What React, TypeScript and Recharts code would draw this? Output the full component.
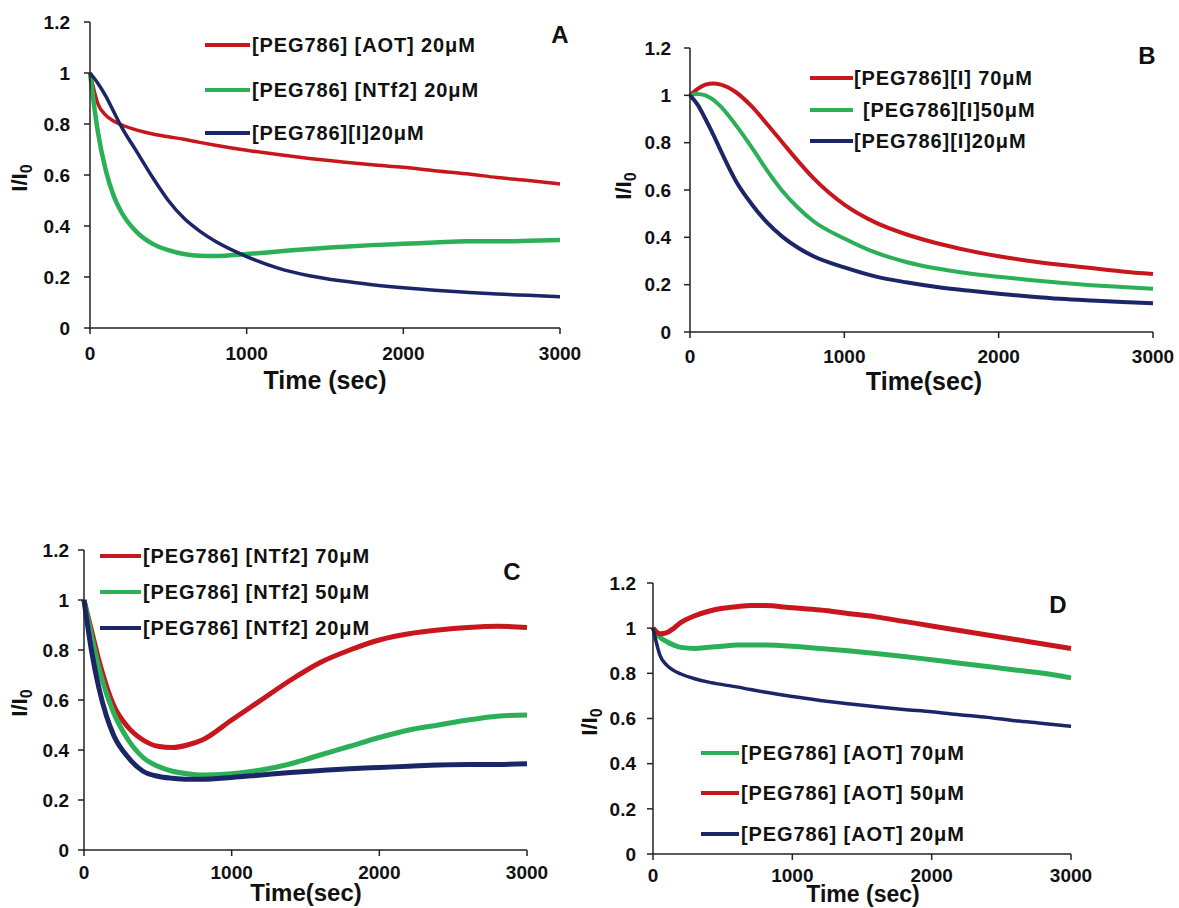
import { LineChart, Line, XAxis, YAxis } from "recharts";

// sample times (sec) shared by every curve
const TIME = [0, 50, 100, 150, 200, 300, 400, 500, 600, 700, 800, 1000, 1200, 1400, 1600, 1800, 2000, 2200, 2400, 2600, 2800, 3000];

// panel A
const aAot20 = [1.0, 0.88, 0.835, 0.812, 0.797, 0.776, 0.761, 0.75, 0.74, 0.728, 0.717, 0.697, 0.68, 0.665, 0.652, 0.64, 0.63, 0.617, 0.605, 0.59, 0.578, 0.565];
const aNtf20 = [1.0, 0.77, 0.62, 0.52, 0.455, 0.375, 0.33, 0.305, 0.29, 0.283, 0.282, 0.29, 0.3, 0.31, 0.318, 0.325, 0.33, 0.335, 0.34, 0.34, 0.342, 0.345];
const aI20 = [1.0, 0.96, 0.91, 0.85, 0.79, 0.69, 0.59, 0.5, 0.43, 0.38, 0.34, 0.28, 0.235, 0.205, 0.185, 0.17, 0.158, 0.148, 0.14, 0.133, 0.128, 0.123];

// panel B
const bI70 = [1.0, 1.027, 1.045, 1.05, 1.045, 1.012, 0.953, 0.878, 0.8, 0.722, 0.65, 0.538, 0.463, 0.413, 0.375, 0.345, 0.32, 0.3, 0.284, 0.27, 0.256, 0.245];
const bI50 = [1.0, 1.006, 1.0, 0.982, 0.952, 0.872, 0.78, 0.682, 0.595, 0.525, 0.468, 0.395, 0.336, 0.296, 0.268, 0.248, 0.233, 0.22, 0.208, 0.198, 0.19, 0.183];
const bI20 = [1.0, 0.96, 0.9, 0.835, 0.765, 0.635, 0.54, 0.462, 0.402, 0.356, 0.32, 0.273, 0.235, 0.21, 0.19, 0.175, 0.162, 0.15, 0.14, 0.133, 0.127, 0.122];

// panel C
const cNtf70 = [1.0, 0.88, 0.76, 0.66, 0.58, 0.49, 0.44, 0.415, 0.41, 0.42, 0.44, 0.52, 0.6, 0.68, 0.75, 0.8, 0.84, 0.865, 0.88, 0.89, 0.895, 0.89];
const cNtf50 = [1.0, 0.86, 0.73, 0.63, 0.55, 0.44, 0.37, 0.335, 0.315, 0.305, 0.3, 0.305, 0.32, 0.345, 0.38, 0.415, 0.45, 0.48, 0.5, 0.52, 0.535, 0.54];
const cNtf20 = [1.0, 0.8, 0.65, 0.54, 0.46, 0.37, 0.315, 0.295, 0.287, 0.283, 0.283, 0.29, 0.3, 0.31, 0.318, 0.325, 0.33, 0.335, 0.34, 0.342, 0.342, 0.345];

// panel D
const dAot70 = [1.0, 0.96, 0.94, 0.925, 0.915, 0.91, 0.915, 0.92, 0.925, 0.925, 0.925, 0.92, 0.91, 0.9, 0.888, 0.875, 0.86, 0.845, 0.83, 0.815, 0.8, 0.78];
const dAot50 = [1.0, 0.975, 0.98, 1.0, 1.025, 1.055, 1.075, 1.088, 1.095, 1.1, 1.1, 1.09, 1.08, 1.065, 1.05, 1.03, 1.01, 0.99, 0.97, 0.95, 0.93, 0.91];
const dAot20 = [1.0, 0.88, 0.835, 0.812, 0.797, 0.776, 0.761, 0.75, 0.74, 0.728, 0.717, 0.697, 0.68, 0.665, 0.652, 0.64, 0.63, 0.617, 0.605, 0.59, 0.578, 0.565];

const X_TICKS = [0, 1000, 2000, 3000];
const Y_TICKS = [0, 0.2, 0.4, 0.6, 0.8, 1, 1.2];

const RED = "#c8161d";
const GREEN = "#2bb057";
const NAVY = "#1b2668";
const FONT = "'Liberation Sans', Arial, sans-serif";

type Series = { name: string; values: number[]; color: string; width: number };

type PanelProps = {
  series: Series[];
  box: { x0: number; x1: number; y0: number; y1: number };
  yTickMargin: number;
  xTickMargin: number;
  letter: string;
  letterPos: [number, number];
  xTitle: string;
  xTitlePos: [number, number];
  xTitleSize: number;
  yTitlePos: [number, number];
  legendLine: [number, number];
  legendText: number[];
  legendRows: number[];
};

function Txt({ x, y, size, children, rotate }: { x: number; y: number; size: number; children: any; rotate?: boolean }) {
  return (
    <div
      style={{
        position: "absolute",
        left: x,
        top: y,
        transform: `translate(-50%, -50%)${rotate ? " rotate(-90deg)" : ""}`,
        fontFamily: FONT,
        fontWeight: 700,
        fontSize: size,
        color: "#111",
        whiteSpace: "nowrap",
        lineHeight: 1,
      }}
    >
      {children}
    </div>
  );
}

function Panel(p: PanelProps) {
  const yw = 80;
  const left = p.box.x0 - yw;
  const top = p.box.y0 - 20;
  const width = p.box.x1 + 40 - left;
  const height = p.box.y1 + 50 - top;
  const rows = TIME.map((t, i) => {
    const r: Record<string, number> = { t };
    p.series.forEach((s) => (r[s.name] = s.values[i]));
    return r;
  });
  const tick = { fill: "#111", fontSize: 19, fontWeight: 700, fontFamily: FONT };

  return (
    <>
      <div style={{ position: "absolute", left, top }}>
        <LineChart width={width} height={height} data={rows} margin={{ top: 20, right: 40, left: 0, bottom: 0 }}>
          <XAxis
            dataKey="t"
            type="number"
            domain={[0, 3000]}
            ticks={X_TICKS}
            height={50}
            tick={tick}
            tickSize={6}
            tickMargin={p.xTickMargin}
            axisLine={{ stroke: "#222", strokeWidth: 1.5 }}
            tickLine={{ stroke: "#222", strokeWidth: 1.5 }}
          />
          <YAxis
            type="number"
            domain={[0, 1.2]}
            ticks={Y_TICKS}
            width={yw}
            tick={tick}
            tickSize={6}
            tickMargin={p.yTickMargin}
            tickFormatter={(v: number) => String(Number(v.toFixed(1)))}
            axisLine={{ stroke: "#222", strokeWidth: 1.5 }}
            tickLine={{ stroke: "#222", strokeWidth: 1.5 }}
          />
          {p.series.map((s) => (
            <Line
              key={s.name}
              dataKey={s.name}
              type="monotone"
              stroke={s.color}
              strokeWidth={s.width}
              dot={false}
              isAnimationActive={false}
            />
          ))}
        </LineChart>
      </div>
      {p.series.map((s, i) => (
        <div key={s.name}>
          <div
            style={{
              position: "absolute",
              left: p.legendLine[0],
              top: p.legendRows[i] - 2,
              width: p.legendLine[1] - p.legendLine[0],
              height: 4,
              background: s.color,
            }}
          />
          <div
            style={{
              position: "absolute",
              left: p.legendText[i],
              top: p.legendRows[i],
              transform: "translateY(-50%)",
              fontFamily: FONT,
              fontWeight: 700,
              fontSize: 20,
              letterSpacing: 0.9,
              color: "#111",
              whiteSpace: "nowrap",
              lineHeight: 1,
            }}
          >
            {s.name}
          </div>
        </div>
      ))}
      <Txt x={p.letterPos[0]} y={p.letterPos[1]} size={24}>{p.letter}</Txt>
      <Txt x={p.xTitlePos[0]} y={p.xTitlePos[1]} size={p.xTitleSize}>{p.xTitle}</Txt>
      <Txt x={p.yTitlePos[0]} y={p.yTitlePos[1]} size={22} rotate>
        I/I<sub style={{ fontSize: 16 }}>0</sub>
      </Txt>
    </>
  );
}

export default function App() {
  const aS: Series[] = [
    { name: "[PEG786] [AOT] 20μM", values: aAot20, color: RED, width: 3.5 },
    { name: "[PEG786] [NTf2] 20μM", values: aNtf20, color: GREEN, width: 4.5 },
    { name: "[PEG786][I]20μM", values: aI20, color: NAVY, width: 3.5 },
  ];
  const bS: Series[] = [
    { name: "[PEG786][I] 70μM", values: bI70, color: RED, width: 4 },
    { name: "[PEG786][I]50μM", values: bI50, color: GREEN, width: 4 },
    { name: "[PEG786][I]20μM", values: bI20, color: NAVY, width: 4 },
  ];
  const cS: Series[] = [
    { name: "[PEG786] [NTf2] 70μM", values: cNtf70, color: RED, width: 5 },
    { name: "[PEG786] [NTf2] 50μM", values: cNtf50, color: GREEN, width: 5 },
    { name: "[PEG786] [NTf2] 20μM", values: cNtf20, color: NAVY, width: 5 },
  ];
  const dS: Series[] = [
    { name: "[PEG786] [AOT] 70μM", values: dAot70, color: GREEN, width: 5 },
    { name: "[PEG786] [AOT] 50μM", values: dAot50, color: RED, width: 5 },
    { name: "[PEG786] [AOT] 20μM", values: dAot20, color: NAVY, width: 3.5 },
  ];

  return (
    <div style={{ position: "absolute", left: 0, top: 0, width: 1179, height: 908, background: "#fff", overflow: "hidden" }}>
      <Panel
        series={aS}
        box={{ x0: 90, x1: 560, y0: 22, y1: 328 }}
        yTickMargin={14}
        xTickMargin={13}
        letter="A"
        letterPos={[560, 35]}
        xTitle="Time (sec)"
        xTitlePos={[325, 380]}
        xTitleSize={25}
        yTitlePos={[22, 178]}
        legendLine={[205, 250]}
        legendText={[252, 252, 252]}
        legendRows={[45, 90, 133]}
      />
      <Panel
        series={bS}
        box={{ x0: 690, x1: 1153, y0: 48, y1: 332 }}
        yTickMargin={13}
        xTickMargin={12}
        letter="B"
        letterPos={[1147, 56]}
        xTitle="Time(sec)"
        xTitlePos={[924, 381]}
        xTitleSize={25}
        yTitlePos={[626, 186]}
        legendLine={[810, 853]}
        legendText={[854, 863, 854]}
        legendRows={[78, 110, 141]}
      />
      <Panel
        series={cS}
        box={{ x0: 84, x1: 527, y0: 550, y1: 850 }}
        yTickMargin={9}
        xTickMargin={10}
        letter="C"
        letterPos={[512, 572]}
        xTitle="Time(sec)"
        xTitlePos={[306, 893]}
        xTitleSize={24}
        yTitlePos={[22, 703]}
        legendLine={[100, 141]}
        legendText={[143, 143, 143]}
        legendRows={[556, 592, 628]}
      />
      <Panel
        series={dS}
        box={{ x0: 653, x1: 1071, y0: 583, y1: 854 }}
        yTickMargin={11}
        xTickMargin={9}
        letter="D"
        letterPos={[1058, 605]}
        xTitle="Time (sec)"
        xTitlePos={[863, 894]}
        xTitleSize={23}
        yTitlePos={[592, 722]}
        legendLine={[701, 739]}
        legendText={[741, 741, 741]}
        legendRows={[753, 793, 834]}
      />
    </div>
  );
}
